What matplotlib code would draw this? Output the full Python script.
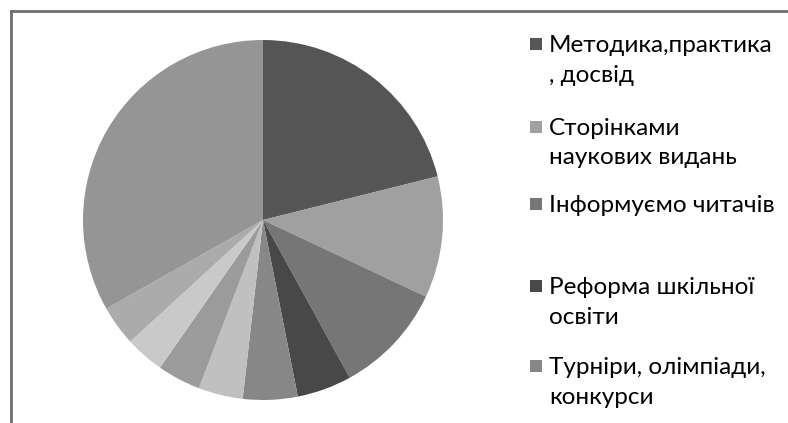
# -*- coding: utf-8 -*-
import matplotlib
matplotlib.use('Agg')
import matplotlib.pyplot as plt
from matplotlib.patches import Rectangle
from matplotlib.lines import Line2D

# частки рубрик (оцінка з рисунка), по годинниковій стрілці від 12 години
values = [21.1, 10.9, 10.0, 4.9, 4.9, 4.0, 3.9, 3.5, 3.6, 33.2]
colors = ['#555555', '#a0a0a0', '#767676', '#484848', '#878787',
          '#c0c0c0', '#9b9b9b', '#c9c9c9', '#ababab', '#959595']
# видимі підписи легенди (решта обрізана)
labels = ['Методика,практика\n, досвід',
          'Сторінками\nнаукових видань',
          'Інформуємо читачів',
          'Реформа шкільної\nосвіти',
          'Турніри, олімпіади,\nконкурси']

W, H = 788, 423
fig = plt.figure(figsize=(W / 100, H / 100), dpi=100)

cx, cy, r = 263, 220, 180
ax = fig.add_axes([(cx - r) / W, (H - cy - r) / H, 2 * r / W, 2 * r / H])
wedges, _ = ax.pie(values, colors=colors, startangle=90, counterclock=False,
                   radius=1, wedgeprops=dict(linewidth=0))
ax.set_xlim(-1, 1)
ax.set_ylim(-1, 1)
ax.axis('off')

# рамка зліва та зверху
fig.add_artist(Line2D([11 / W, 11 / W], [0, 1 - 11 / H], color='#6e6e6e', lw=2))
fig.add_artist(Line2D([11 / W, 1], [1 - 11 / H, 1 - 11 / H], color='#6e6e6e', lw=2))

# легенда вручну
ys = [45, 128, 205, 287, 367]
for i, (lab, y) in enumerate(zip(labels, ys)):
    s = 12
    fig.add_artist(Rectangle((530 / W, (H - y - s / 2 + 1) / H), s / W, s / H,
                             facecolor=wedges[i].get_facecolor(), edgecolor='none',
                             transform=fig.transFigure))
    fig.text(549 / W, (H - y + 10) / H, lab, family='Lato', fontsize=17.5,
             color='black', va='top', ha='left', linespacing=1.5)

fig.savefig('out.png', dpi=100)
